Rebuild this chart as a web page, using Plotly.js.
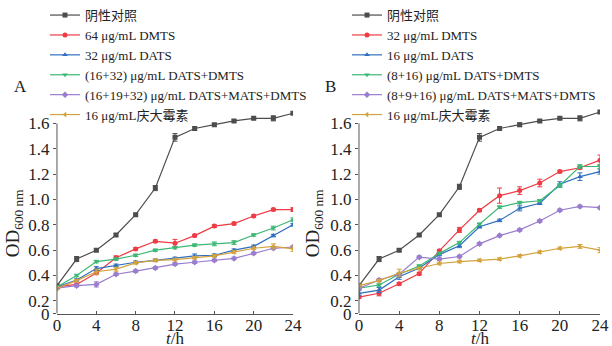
<!DOCTYPE html>
<html>
<head>
<meta charset="utf-8">
<script src="https://cdn.plot.ly/plotly-3.0.1.min.js"></script>
<style>html,body{margin:0;padding:0;background:#fff;}#chart{width:612px;height:346px;}</style>
</head>
<body>
<div id="chart"></div>
<script>
const hours = [0,2,4,6,8,10,12,14,16,18,20,22,24];

// Panel A
const namesA = ['阴性对照','64 μg/mL DMTS','32 μg/mL DATS','(16+32) μg/mL DATS+DMTS','(16+19+32) μg/mL DATS+MATS+DMTS','16 μg/mL庆大霉素'];
const ctrlA   = [0.32,0.53,0.60,0.72,0.88,1.09,1.49,1.56,1.59,1.62,1.64,1.64,1.68];
const redA    = [0.31,0.33,0.42,0.54,0.61,0.67,0.655,0.715,0.79,0.81,0.87,0.92,0.92];
const blueA   = [0.31,0.365,0.455,0.48,0.505,0.52,0.535,0.555,0.56,0.60,0.63,0.715,0.80];
const greenA  = [0.31,0.40,0.51,0.53,0.56,0.60,0.62,0.64,0.65,0.66,0.72,0.775,0.84];
const purpleA = [0.30,0.32,0.33,0.41,0.435,0.46,0.49,0.505,0.52,0.535,0.575,0.615,0.625];
const orangeA = [0.30,0.36,0.43,0.45,0.50,0.52,0.525,0.54,0.555,0.585,0.615,0.63,0.61];
const ctrlAErr   = [0.01,0.02,0.01,0.01,0.01,0.02,0.03,0.015,0.01,0.01,0.01,0.02,0.01];
const redAErr    = [0.01,0.01,0.01,0.015,0.01,0.01,0.03,0.01,0.01,0.01,0.01,0.01,0.015];
const blueAErr   = [0.01,0.01,0.015,0.01,0.01,0.01,0.01,0.015,0.01,0.01,0.01,0.01,0.01];
const greenAErr  = [0.01,0.01,0.01,0.01,0.01,0.01,0.01,0.01,0.015,0.015,0.01,0.015,0.015];
const purpleAErr = [0.01,0.01,0.02,0.01,0.01,0.01,0.01,0.01,0.01,0.01,0.01,0.01,0.01];
const orangeAErr = [0.01,0.01,0.02,0.015,0.01,0.01,0.01,0.01,0.01,0.01,0.01,0.02,0.02];

// Panel B
const namesB = ['阴性对照','32 μg/mL DMTS','16 μg/mL DATS','(8+16) μg/mL DATS+DMTS','(8+9+16) μg/mL DATS+MATS+DMTS','16 μg/mL庆大霉素'];
const ctrlB   = [0.32,0.53,0.60,0.72,0.88,1.10,1.49,1.56,1.59,1.62,1.64,1.64,1.69];
const redB    = [0.23,0.26,0.335,0.415,0.595,0.76,0.915,1.03,1.07,1.13,1.22,1.25,1.31];
const blueB   = [0.26,0.285,0.39,0.46,0.565,0.635,0.785,0.835,0.93,0.97,1.12,1.18,1.22];
const greenB  = [0.30,0.325,0.41,0.475,0.575,0.66,0.805,0.94,0.975,0.99,1.11,1.26,1.26];
const purpleB = [0.30,0.365,0.41,0.545,0.53,0.55,0.65,0.715,0.76,0.83,0.915,0.945,0.935];
const orangeB = [0.32,0.36,0.42,0.455,0.495,0.51,0.52,0.53,0.555,0.585,0.615,0.63,0.60];
const ctrlBErr   = [0.01,0.02,0.01,0.01,0.01,0.02,0.03,0.015,0.015,0.01,0.01,0.02,0.01];
const redBErr    = [0.01,0.02,0.01,0.01,0.01,0.02,0.01,0.06,0.03,0.03,0.01,0.01,0.04];
const blueBErr   = [0.02,0.02,0.02,0.01,0.01,0.015,0.01,0.01,0.02,0.01,0.02,0.03,0.02];
const greenBErr  = [0.01,0.01,0.01,0.01,0.01,0.01,0.01,0.01,0.01,0.01,0.015,0.015,0.015];
const purpleBErr = [0.01,0.01,0.01,0.01,0.01,0.01,0.01,0.01,0.01,0.01,0.01,0.01,0.01];
const orangeBErr = [0.01,0.01,0.03,0.01,0.01,0.01,0.01,0.01,0.01,0.01,0.01,0.015,0.02];

const yTickVals = [0.1,0.2,0.4,0.6,0.8,1.0,1.2,1.4,1.6];
const yTickText = ['0','0.2','0.4','0.6','0.8','1.0','1.2','1.4','1.6'];
const xTickVals = [0,4,8,12,16,20,24];

const colors  = ['#4d4d4d','#ee3b44','#2f6fc0','#3cb874','#9a7dcf','#d4a23c'];
const symbols = ['square','circle','triangle-up','triangle-down','diamond','triangle-left'];

const FONT = 'Liberation Serif, "Noto Sans CJK SC", serif';

function mk(y, err, i, name, xa, ya, leg) {
  return {
    x: hours, y: y, name: name, type: 'scatter', mode: 'lines+markers',
    xaxis: xa, yaxis: ya, legend: leg,
    line: {color: colors[i], width: 1.2},
    marker: {color: colors[i], symbol: symbols[i], size: 5},
    error_y: {type: 'data', array: err, color: colors[i], thickness: 1, width: 2.5}
  };
}

const seriesA = [ctrlA, redA, blueA, greenA, purpleA, orangeA];
const errA = [ctrlAErr, redAErr, blueAErr, greenAErr, purpleAErr, orangeAErr];
const seriesB = [ctrlB, redB, blueB, greenB, purpleB, orangeB];
const errB = [ctrlBErr, redBErr, blueBErr, greenBErr, purpleBErr, orangeBErr];

const traces = [];
seriesA.forEach((s, i) => traces.push(mk(s, errA[i], i, namesA[i], 'x', 'y', 'legend')));
seriesB.forEach((s, i) => traces.push(mk(s, errB[i], i, namesB[i], 'x2', 'y2', 'legend2')));

const axisCommon = {
  showgrid: false, zeroline: false,
  tickfont: {family: FONT, size: 17, color: '#222'},
  linecolor: '#555', linewidth: 1, tickcolor: '#555', tickwidth: 1
};
const xCommon = Object.assign({}, axisCommon, {
  range: [0, 24], tickvals: xTickVals, ticks: 'inside', ticklen: 3, showline: true,
  ticklabelstandoff: -4
});
const yCommon = Object.assign({}, axisCommon, {
  range: [0.1, 1.72], tickvals: yTickVals, ticktext: yTickText, ticks: 'outside', ticklen: 3,
  showline: false
});

const yDom = [0.0954, 0.6994];
const titleFont = {family: FONT, size: 17, color: '#222'};
const ann = (text, x, y, extra) => Object.assign({text: text, xref: 'paper', yref: 'paper',
  x: x/612, y: 1 - y/346, xanchor: 'center', yanchor: 'middle', showarrow: false, font: titleFont}, extra || {});

const layout = {
  width: 612, height: 346,
  margin: {l: 0, r: 0, t: 0, b: 0},
  paper_bgcolor: '#fff', plot_bgcolor: '#fff',
  font: {family: FONT, color: '#222'},
  showlegend: true,
  xaxis: Object.assign({}, xCommon, {domain: [0.0931, 0.4788], anchor: 'y'}),
  yaxis: Object.assign({}, yCommon, {domain: yDom, anchor: 'x'}),
  xaxis2: Object.assign({}, xCommon, {domain: [0.5866, 0.9804], anchor: 'y2'}),
  yaxis2: Object.assign({}, yCommon, {domain: yDom, anchor: 'x2'}),
  legend: {x: 45/612, y: 1 + 6/346, xanchor: 'left', yanchor: 'top', bgcolor: 'rgba(0,0,0,0)',
           font: {family: FONT, size: 13, color: '#222'}, tracegroupgap: 0},
  legend2: {x: 347/612, y: 1 + 6/346, xanchor: 'left', yanchor: 'top', bgcolor: 'rgba(0,0,0,0)',
           font: {family: FONT, size: 13, color: '#222'}, tracegroupgap: 0},
  shapes: [
    {type: 'line', xref: 'x domain', yref: 'y', x0: 0, x1: 0, y0: 0.1, y1: 1.6, line: {color: '#555', width: 1}},
    {type: 'line', xref: 'x2 domain', yref: 'y2', x0: 0, x1: 0, y0: 0.1, y1: 1.6, line: {color: '#555', width: 1}}
  ],
  annotations: [
    ann('A', 20, 82),
    ann('B', 330, 82),
    ann('<i>t</i>/h', 175, 338),
    ann('<i>t</i>/h', 480, 338),
    ann('OD<sub>600 nm</sub>', 14, 221, {textangle: -90, font: {family: FONT, size: 19, color: '#222'}}),
    ann('OD<sub>600 nm</sub>', 314, 221, {textangle: -90, font: {family: FONT, size: 19, color: '#222'}})
  ]
};

Plotly.newPlot('chart', traces, layout, {displayModeBar: false, staticPlot: true});
</script>
</body>
</html>
